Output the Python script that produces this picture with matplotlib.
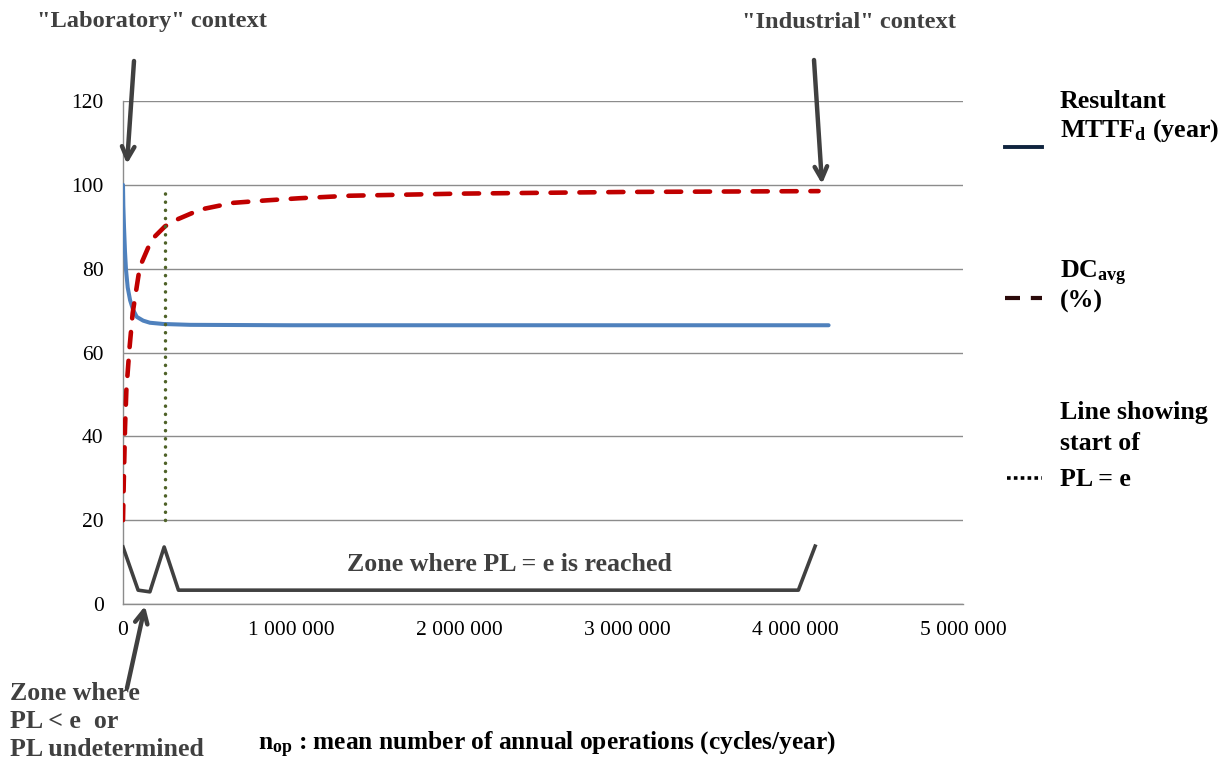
import numpy as np
import matplotlib
matplotlib.use('Agg')
import matplotlib.pyplot as plt

plt.rcParams['font.family'] = 'Liberation Serif'
plt.rcParams['mathtext.fontset'] = 'custom'
plt.rcParams['mathtext.rm'] = 'Liberation Serif:bold'
plt.rcParams['mathtext.bf'] = 'Liberation Serif:bold'
plt.rcParams['mathtext.it'] = 'Liberation Serif:bold'

# resultant MTTFd (year) vs annual operations
mttf_x = [0, 2000, 6000, 12000, 18000, 28000, 42000, 60000, 82000, 120000,
          160000, 240000, 400000, 1000000, 2000000, 3000000, 4200000]
mttf_y = [100, 95, 90, 84, 79.7, 75.5, 72.5, 70.2, 68.5, 67.6,
          67.1, 66.8, 66.6, 66.5, 66.5, 66.5, 66.5]

# DCavg (%) vs annual operations
dc_x = [0, 5000, 12000, 20000, 37700, 57500, 100000, 170000, 250000, 320000,
        460000, 655000, 857000, 1050000, 1350000, 2000000, 3000000, 4140000]
dc_y = [20, 30, 42, 51, 60.6, 69.4, 80.4, 86.9, 90.1, 91.7,
        94.1, 95.7, 96.3, 96.8, 97.4, 97.9, 98.3, 98.5]

# start of PL = e
pl_x = [250000, 250000]
pl_y = [20, 98]

# brace marking the zones
brace_x = [0, 90000, 160000, 245000, 330000, 4020000, 4120000]
brace_y = [13.6, 3.3, 2.9, 13.6, 3.3, 3.3, 13.8]

xticks = [0, 1000000, 2000000, 3000000, 4000000, 5000000]
xtick_labels = ['0', '1 000 000', '2 000 000', '3 000 000', '4 000 000', '5 000 000']
yticks = [0, 20, 40, 60, 80, 100, 120]

W, H = 1225, 761
fig = plt.figure(figsize=(W / 100, H / 100), dpi=100)
ax = fig.add_axes([123 / W, 1 - 604 / H, 840 / W, 503 / H])

grey = '#404040'
fs = 18.6
ax.plot(mttf_x, mttf_y, color='#4f81bd', lw=2.9, solid_capstyle='round', zorder=3)
ax.plot(dc_x, dc_y, color='#c00000', lw=3.3, dashes=(3.3, 3.0),
        dash_capstyle='round', zorder=3)
ax.plot(pl_x, pl_y, color='#4f6228', lw=2.5, linestyle=(0, (0.05, 2.3)),
        dash_capstyle='round', zorder=4)
ax.plot(brace_x, brace_y, color=grey, lw=2.6, zorder=3)

ax.set_xlim(0, 5000000)
ax.set_ylim(0, 120)
ax.set_xticks(xticks)
ax.set_xticklabels(xtick_labels)
ax.set_yticks(yticks)
ax.tick_params(length=0, labelsize=15.5)
ax.tick_params(axis='x', pad=12)
ax.tick_params(axis='y', pad=14)
ax.grid(axis='y', color='#8c8c8c', lw=1)
ax.set_axisbelow(True)
for s in ['top', 'right']:
    ax.spines[s].set_visible(False)
for s in ['left', 'bottom']:
    ax.spines[s].set_color('#8c8c8c')
    ax.spines[s].set_linewidth(1)

ax.text(2300000, 9.5, 'Zone where PL = e is reached', ha='center', va='center',
        fontsize=fs, fontweight='bold', color=grey)

# overlay in pixel coordinates for annotations and legend
ov = fig.add_axes([0, 0, 1, 1], facecolor='none')
ov.set_xlim(0, W)
ov.set_ylim(H, 0)
ov.axis('off')

ov.text(37, 22, '"Laboratory" context', fontsize=17.6, fontweight='bold',
        color=grey, va='center', ha='left')
ov.text(742, 22, '"Industrial" context', fontsize=17.6, fontweight='bold',
        color=grey, va='center', ha='left')

arrow = dict(arrowstyle='->,head_length=0.9,head_width=0.45', color=grey, lw=3.2,
             shrinkA=0, shrinkB=0)
ov.annotate('', xy=(127, 164), xytext=(134, 61), arrowprops=arrow)
ov.annotate('', xy=(822, 184), xytext=(814, 60), arrowprops=arrow)
ov.annotate('', xy=(145, 606), xytext=(127, 688), arrowprops=arrow)

ov.text(10, 693, 'Zone where', fontsize=fs, fontweight='bold', color=grey, va='center')
ov.text(10, 722, 'PL < e  or', fontsize=fs, fontweight='bold', color=grey, va='center')
ov.text(10, 750, 'PL undetermined', fontsize=fs, fontweight='bold', color=grey, va='center')

ov.text(258, 745, r'$\mathbf{n_{op}}$ : mean number of annual operations (cycles/year)',
        fontsize=18.3, fontweight='bold', color='black', va='center', ha='left')

# legend
ov.plot([1005, 1042], [147, 147], color='#0f243e', lw=2.8)
ov.text(1060, 101, 'Resultant', fontsize=fs, fontweight='bold', va='center')
ov.text(1060, 131, r'MTTF$_\mathbf{d}$ (year)', fontsize=fs, fontweight='bold', va='center')

ov.plot([1005, 1042], [298, 298], color='#2b0a0a', lw=3, dashes=(3.6, 2.6))
ov.text(1060, 273, r'DC$_\mathbf{avg}$', fontsize=fs, fontweight='bold', va='center')
ov.text(1060, 301, '(%)', fontsize=fs, fontweight='bold', va='center')

ov.plot([1007, 1042], [478, 478], color='black', lw=2.6, linestyle=(0, (1, 0.9)))
ov.text(1060, 412, 'Line showing', fontsize=fs, fontweight='bold', va='center')
ov.text(1060, 444, 'start of', fontsize=fs, fontweight='bold', va='center')
ov.text(1060, 479, 'PL = e', fontsize=fs, fontweight='bold', va='center')

fig.savefig('out.png', dpi=100)
